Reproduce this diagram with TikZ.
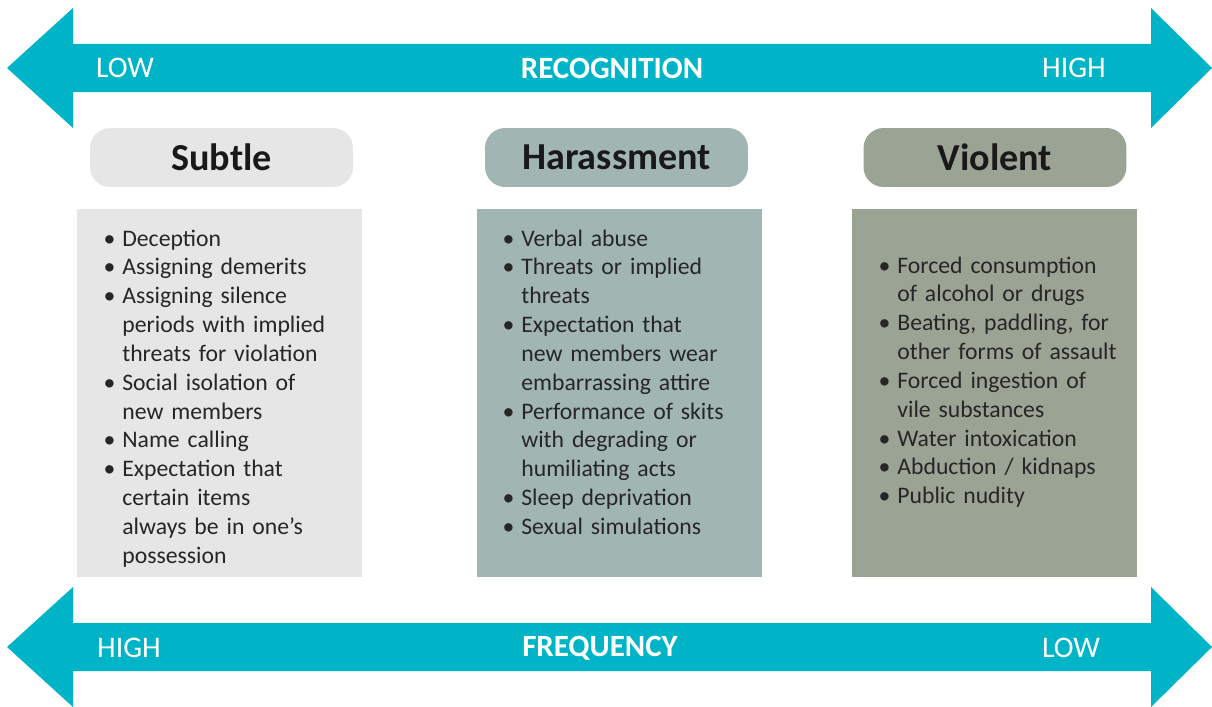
\documentclass[tikz,border=0pt]{standalone}
\usepackage{fontspec}
\setmainfont{Carlito}
\usepackage{enumitem}
\definecolor{arrowcyan}{RGB}{0,180,200}
\definecolor{subtlegray}{RGB}{230,230,230}
\definecolor{harassgray}{RGB}{161,181,179}
\definecolor{violentgray}{RGB}{155,163,148}
\tikzset{
    pill/.style={rounded corners=0.4cm, minimum width=5.26cm, minimum height=1.18cm,
                 font=\fontsize{21.7}{26}\selectfont\bfseries, text=black!90},
    listbox/.style={minimum width=5.7cm, minimum height=7.36cm, inner sep=0pt},
    listtext/.style={anchor=north west, text width=5.2cm, inner sep=0pt,
                     font=\fontsize{13.5}{16.4}\selectfont, text=black!85},
    scalelabel/.style={text=white, font=\fontsize{17}{20}\selectfont},
    scaletitle/.style={text=white, font=\fontsize{17.6}{20}\selectfont\bfseries},
}
\begin{document}
\begin{tikzpicture}[x=0.02cm,y=-0.02cm]
    \useasboundingbox (0,0) rectangle (1212,706);
    %% recognition arrow
    \fill[arrowcyan] (7,68) -- (73,8) -- (73,44) -- (1151,44) -- (1151,8) -- (1212,68)
        -- (1151,128) -- (1151,92) -- (73,92) -- (73,128) -- cycle;
    \node[scalelabel] (reclow)  at (125,68)  {LOW};
    \node[scaletitle] (rec)     at (612,68)  {RECOGNITION};
    \node[scalelabel] (rechigh) at (1074,68) {HIGH};
    %% frequency arrow
    \fill[arrowcyan] (7,647) -- (73,587) -- (73,623) -- (1151,623) -- (1151,587) -- (1212,647)
        -- (1151,707) -- (1151,671) -- (73,671) -- (73,707) -- cycle;
    \node[scalelabel] (freqhigh) at (129,648)  {HIGH};
    \node[scaletitle] (freq)     at (600,648)  {FREQUENCY};
    \node[scalelabel] (freqlow)  at (1071,648) {LOW};
    %% headers
    \node[pill,fill=subtlegray]  (subtle)  at (221.5,157.5) {Subtle};
    \node[pill,fill=harassgray]  (harass)  at (616.5,157.5) {Harassment};
    \node[pill,fill=violentgray] (violent) at (995,157.5)   {Violent};
    %% boxes
    \node[listbox,fill=subtlegray]  (subtlebox)  at (219.5,393) {};
    \node[listbox,fill=harassgray]  (harassbox)  at (619.5,393) {};
    \node[listbox,fill=violentgray] (violentbox) at (994.5,393) {};
    %% lists
    \node[listtext] (subtlelist) at (107,217) {%
        \begin{itemize}[nosep,leftmargin=0.3cm,labelsep=0.14cm]
        \item Deception
        \item Assigning demerits
        \item Assigning silence\newline periods with implied\newline threats for violation
        \item Social isolation of\newline new members
        \item Name calling
        \item Expectation that\newline certain items\newline always be in one’s\newline possession
        \end{itemize}};
    \node[listtext] (harasslist) at (506,217) {%
        \begin{itemize}[nosep,leftmargin=0.3cm,labelsep=0.14cm]
        \item Verbal abuse
        \item Threats or implied\newline threats
        \item Expectation that\newline new members wear\newline embarrassing attire
        \item Performance of skits\newline with degrading or\newline humiliating acts
        \item Sleep deprivation
        \item Sexual simulations
        \end{itemize}};
    \node[listtext] (violentlist) at (882,244) {%
        \begin{itemize}[nosep,leftmargin=0.3cm,labelsep=0.14cm]
        \item Forced consumption\newline of alcohol or drugs
        \item Beating, paddling, for\newline other forms of assault
        \item Forced ingestion of\newline vile substances
        \item Water intoxication
        \item Abduction / kidnaps
        \item Public nudity
        \end{itemize}};
\end{tikzpicture}
\end{document}
